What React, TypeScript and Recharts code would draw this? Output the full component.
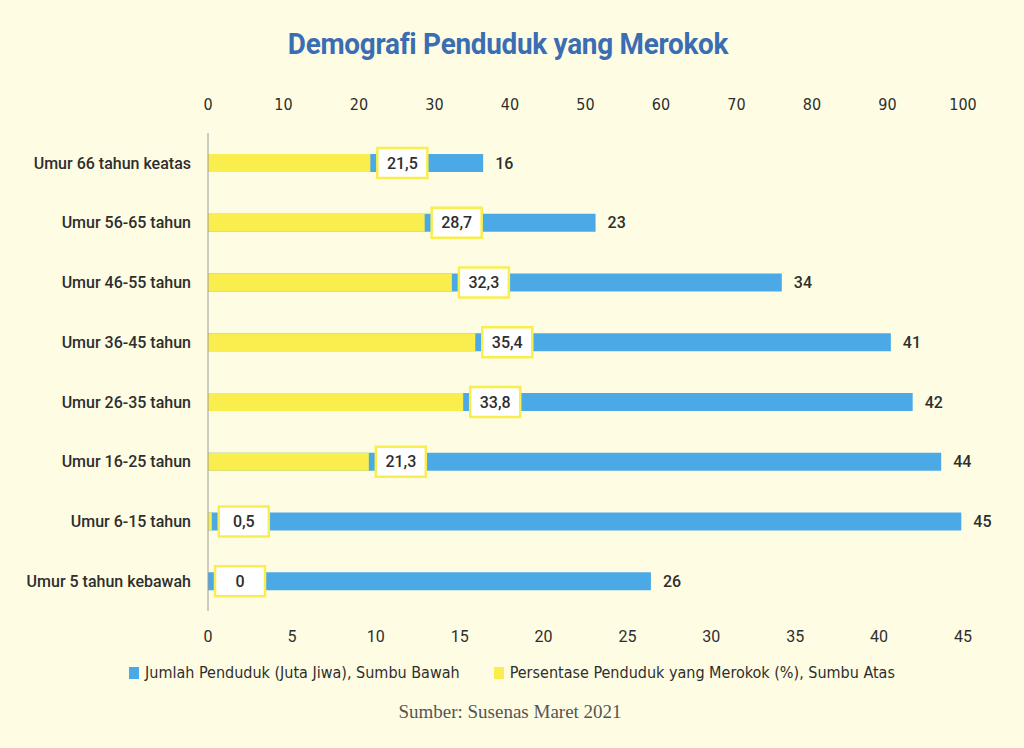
import { BarChart, Bar, XAxis, YAxis, LabelList } from 'recharts';

const categories = [
  'Umur 66 tahun keatas',
  'Umur 56-65 tahun',
  'Umur 46-55 tahun',
  'Umur 36-45 tahun',
  'Umur 26-35 tahun',
  'Umur 16-25 tahun',
  'Umur 6-15 tahun',
  'Umur 5 tahun kebawah',
];
// Jumlah penduduk (juta jiwa), bottom axis
const population = [16.4, 23.1, 34.2, 40.7, 42.0, 43.7, 44.9, 26.4];
// Persentase penduduk yang merokok (%), top axis
const smokingPct = [21.5, 28.7, 32.3, 35.4, 33.8, 21.3, 0.5, 0];

const bottomTicks = [0, 5, 10, 15, 20, 25, 30, 35, 40, 45];
const topTicks = [0, 10, 20, 30, 40, 50, 60, 70, 80, 90, 100];

const data = categories.map((name, i) => ({ name, pop: population[i], pct: smokingPct[i] }));

const BLUE = '#4BA9E6';
const YELLOW = '#F9EE4D';
const BG = '#FEFDE4';
const TEXT = '#2e2e2e';
const CONDENSED = '"Liberation Sans Narrow", "DejaVu Sans Condensed", "Roboto Condensed", Roboto, sans-serif';

const fmt = (v: number) => String(v).replace('.', ',');

const PopLabel = (props: any) => {
  const { x, y, width, height, value } = props;
  return (
    <text
      x={x + width + 12}
      y={y + height / 2}
      dominantBaseline="central"
      fontSize={16}
      fontWeight={500}
      fill={TEXT}
      fontFamily="Roboto, sans-serif"
    >
      {Math.round(value)}
    </text>
  );
};

// yellow bar plus its boxed value label
const PctShape = (props: any) => {
  const { x, y, width, height, payload } = props;
  const w = Math.max(0, width || 0);
  const bx = x + w + 7;
  const cy = y + height / 2;
  return (
    <g>
      {w > 0 && <rect x={x} y={y} width={w} height={height} fill={YELLOW} />}
      <rect x={bx} y={cy - 15} width={50} height={30} fill="#ffffff" stroke={YELLOW} strokeWidth={2.5} />
      <text
        x={bx + 25}
        y={cy}
        textAnchor="middle"
        dominantBaseline="central"
        fontSize={16}
        fontWeight={500}
        fill={TEXT}
        fontFamily="Roboto, sans-serif"
      >
        {fmt(payload.pct)}
      </text>
    </g>
  );
};

export default function App() {
  return (
    <div
      style={{
        position: 'absolute',
        left: 0,
        top: 0,
        width: 1024,
        height: 748,
        background: BG,
        overflow: 'hidden',
      }}
    >
      <div
        style={{
          position: 'absolute',
          left: 0,
          width: 1016,
          top: 26,
          textAlign: 'center',
          fontFamily: 'Roboto, sans-serif',
          fontWeight: 700,
          fontSize: 30,
          color: '#3B6DB3',
          transform: 'scaleX(0.93)',
          letterSpacing: -0.3,
        }}
      >
        Demografi Penduduk yang Merokok
      </div>

      <BarChart
        width={1024}
        height={660}
        data={data}
        layout="vertical"
        margin={{ top: 90, right: 61, left: 8, bottom: 9 }}
      >
        <XAxis
          xAxisId="top"
          type="number"
          orientation="top"
          domain={[0, 100]}
          ticks={topTicks}
          height={43}
          axisLine={false}
          tickLine={false}
          tickSize={0}
          tickMargin={23}
          tick={{ fill: TEXT, fontSize: 16, fontFamily: CONDENSED }}
        />
        <XAxis
          xAxisId="bottom"
          type="number"
          orientation="bottom"
          domain={[0, 45]}
          ticks={bottomTicks}
          height={40}
          axisLine={false}
          tickLine={false}
          tickSize={0}
          tickMargin={20}
          tick={{ fill: TEXT, fontSize: 16, fontFamily: 'Roboto, sans-serif' }}
        />
        <YAxis
          yAxisId="a"
          type="category"
          dataKey="name"
          width={200}
          axisLine={{ stroke: '#9a9a9a', strokeWidth: 1 }}
          tickLine={false}
          tickSize={0}
          tickMargin={17}
          tick={{ fill: TEXT, fontSize: 16, fontWeight: 500, fontFamily: 'Roboto, sans-serif' }}
        />
        <YAxis yAxisId="b" type="category" dataKey="name" hide />
        <Bar xAxisId="bottom" yAxisId="a" dataKey="pop" fill={BLUE} barSize={18} isAnimationActive={false}>
          <LabelList dataKey="pop" content={PopLabel} />
        </Bar>
        <Bar
          xAxisId="top"
          yAxisId="b"
          dataKey="pct"
          fill={YELLOW}
          barSize={18}
          shape={PctShape}
          isAnimationActive={false}
        />
      </BarChart>

      <div
        style={{
          position: 'absolute',
          top: 663,
          left: 0,
          width: 1024,
          display: 'flex',
          justifyContent: 'center',
          gap: 34,
          fontFamily: CONDENSED,
          fontStretch: 'condensed',
          fontSize: 16,
          color: TEXT,
        }}
      >
        {[
          { color: BLUE, label: 'Jumlah Penduduk (Juta Jiwa), Sumbu Bawah' },
          { color: YELLOW, label: 'Persentase Penduduk yang Merokok (%), Sumbu Atas' },
        ].map((item) => (
          <div key={item.label} style={{ display: 'flex', alignItems: 'center', gap: 6 }}>
            <span style={{ display: 'inline-block', width: 10, height: 12, background: item.color }} />
            <span>{item.label}</span>
          </div>
        ))}
      </div>

      <div
        style={{
          position: 'absolute',
          top: 701,
          left: 0,
          width: 1020,
          textAlign: 'center',
          fontFamily: '"Liberation Serif", serif',
          fontSize: 19,
          color: '#555',
        }}
      >
        Sumber: Susenas Maret 2021
      </div>
    </div>
  );
}
